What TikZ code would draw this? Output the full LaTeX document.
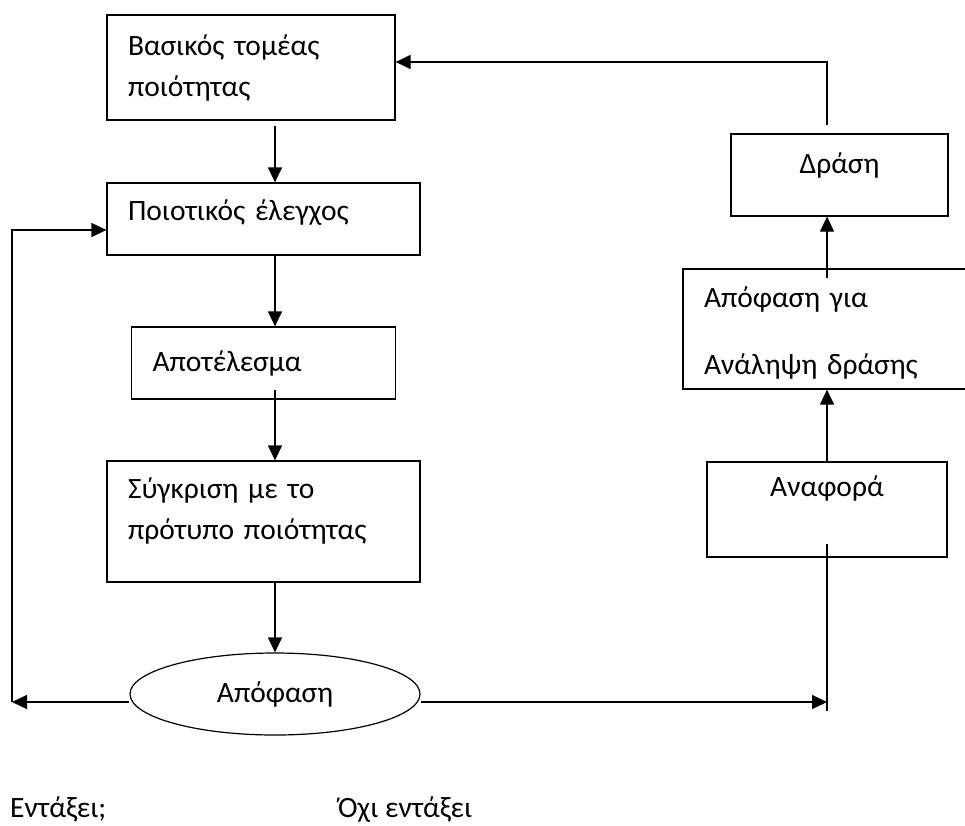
\documentclass[tikz,border=0pt]{standalone}
\usepackage{fontspec}
\setmainfont{Carlito}
\usepackage{tikz}
\usetikzlibrary{shapes.geometric, arrows.meta, calc}

\begin{document}
\begin{tikzpicture}[x=1pt, y=-1pt, node distance=100pt, every node/.style={font=\fontsize{29.5}{41}\selectfont}]
%
% Skiss:
% Basikos tomeas <------------------------------ Drasi
%   |                                              ^
% Poiotikos elegxos <--+              Apofasi gia analipsi drasis
%   |                  |                           ^
% Apotelesma           |                        Anafora
%   |                  |                           |
% Sygkrisi             |                           |
%   |                  |                           |
%   +-----<---- (Apofasi) ----------->-------------+
%
\tikzstyle{process} = [rectangle, draw=black, line width=1.2pt, align=left, inner xsep=21pt, inner ysep=2pt]
\tikzstyle{decision} = [ellipse, draw=black, line width=1.2pt, minimum width=290pt, minimum height=82pt, inner sep=0pt, align=center]
\tikzstyle{arrow} = [line width=1.2pt, -{Triangle[length=15pt, width=14pt]}]
\tikzstyle{line} = [line width=1.2pt]
\tikzstyle{note} = [anchor=base west, inner sep=0pt]
\useasboundingbox (0,0) rectangle (965,825);
% Nodes
\node (baseArea) [process, text width=246pt, minimum height=105pt] at (251,67.5) {Βασικός τομέας\\ποιότητας};
\node (qualityCheck) [process, text width=271pt, minimum height=72pt, text depth=17pt, below of=baseArea, xshift=12.5pt, yshift=-51.5pt] {Ποιοτικός έλεγχος};
\node (result) [process, text width=222pt, minimum height=72pt, below of=qualityCheck, yshift=-44pt] {Αποτέλεσμα};
\node (compareStd) [process, text width=271pt, minimum height=121pt, text depth=66pt, below of=result, yshift=-58.5pt] {Σύγκριση με το\\πρότυπο ποιότητας};
\node (decision) [decision, below of=compareStd, xshift=11.5pt, yshift=-72.5pt] {Απόφαση};
\node (report) [process, align=center, text width=198pt, minimum height=95pt, text depth=46pt, right of=compareStd, xshift=463.5pt, yshift=12pt] {Αναφορά};
\node (actionDecision) [process, text width=246pt, minimum height=120pt, text depth=63pt, above of=report, yshift=80.5pt] {Απόφαση για\\[26pt]Ανάληψη δράσης};
\node (action) [process, align=center, text width=175pt, minimum height=82pt, text depth=23pt, above of=actionDecision, xshift=12.5pt, yshift=54pt] {Δράση};
\node (okLabel) [note] at (10,817) {Εντάξει;};
\node (notOkLabel) [note] at (338,817) {Όχι εντάξει};
\coordinate (okCorner) at (12,702);
\coordinate (notOkCorner) at (827,702);

% Arrows
\draw [arrow] ([yshift=-5pt]baseArea.south -| decision) -- (qualityCheck.north -| decision);
\draw [arrow] (qualityCheck.south -| decision) -- (result.north -| decision);
\draw [arrow] ([yshift=10pt]result.south -| decision) -- (compareStd.north -| decision);
\draw [arrow] (compareStd.south -| decision) -- (decision.north);
\draw [arrow] (decision.west |- okCorner) -- (okCorner);
\draw [arrow] (okCorner) |- ([yshift=-11pt]qualityCheck.west);
\draw [arrow] (decision.east |- notOkCorner) -- (notOkCorner);
\draw [line] ([yshift=-9pt]notOkCorner) -- ([yshift=14pt]report.south);
\draw [arrow] (report.north) -- (actionDecision.south);
\draw [arrow] ([yshift=-10pt]actionDecision.north) -- (action.south -| actionDecision);
\draw [arrow] ([yshift=8pt]action.north -| actionDecision) |- ([yshift=5.5pt]baseArea.east);

\end{tikzpicture}
\end{document}
